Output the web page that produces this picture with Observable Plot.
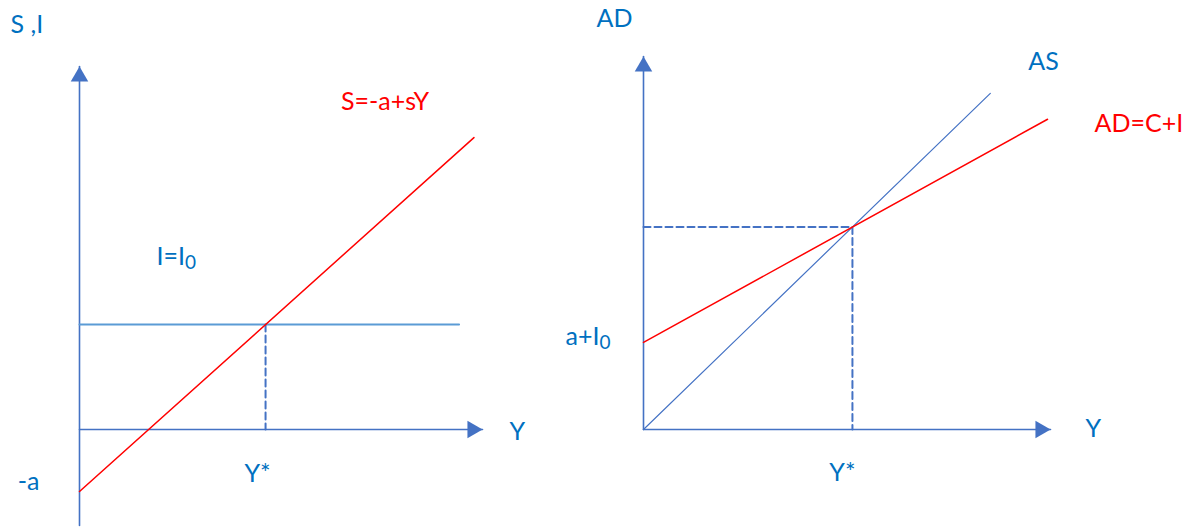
<!DOCTYPE html>
<html>
<head>
<meta charset="utf-8">
<script src="https://cdn.jsdelivr.net/npm/d3@7"></script>
<script src="https://cdn.jsdelivr.net/npm/@observablehq/plot@0.6"></script>
<style>
  html, body { margin: 0; padding: 0; background: #fff; }
  #wrap { position: relative; width: 1189px; height: 529px; overflow: hidden; }
  #wrap svg { position: absolute; top: 0; }
</style>
</head>
<body>
<div id="wrap"></div>
<script>
// ---------- Left panel: saving / investment ----------
const leftAxisY = [-27.4, 103.7];   // vertical axis extent (S, I)
const leftAxisX = [0, 108.3];       // horizontal axis extent (Y)
const savingY = [0, 106];           // S = -a + sY, Y values
const savingS = [-17.7, 83.4];      // S values at those Y
const investY = [0, 102];           // I = I0 line extent
const I0 = 30;
const minusA = -17.7;
const YstarLeft = 50;

// ---------- Right panel: aggregate demand / supply ----------
const rightAxisY = [0, 92.1];
const rightAxisX = [0, 97.4];
const asY = [0, 83];
const asVal = [0, 83];
const adY = [0, 96.7];
const adVal = [21.5, 76.6];
const YstarRight = 50;
const ADstar = 50;

// ---------- Labels ----------
const leftLabels = ["S ,I", "Y", "Y*", "-a", "I=I0", "S=-a+sY"];
const rightLabels = ["AD", "Y", "Y*", "a+I0", "AS", "AD=C+I"];

const AXIS = "#4472C4";
const TEXTBLUE = "#0070C0";
const RED = "#FF0000";
const LIGHT = "#5B9BD5";
const FONT = "Lato, 'Open Sans', sans-serif";
const FS = 25;

const pts = (xs, ys) => xs.map((x, i) => ({x, y: ys[i]}));

function txt(x, y, label, color, opts) {
  return Plot.text([{x, y}], Object.assign({x: "x", y: "y", text: () => label, fill: color,
    fontSize: FS, fontFamily: FONT}, opts));
}

const left = Plot.plot({
  width: 560, height: 529,
  marginLeft: 79, marginRight: 78, marginTop: 66, marginBottom: 4,
  x: {domain: leftAxisX, axis: null},
  y: {domain: leftAxisY, axis: null},
  style: {fontFamily: FONT, background: "transparent", overflow: "visible"},
  marks: [
    // axes
    Plot.line(pts([0, 0], leftAxisY), {x: "x", y: "y", stroke: AXIS, strokeWidth: 1.6}),
    Plot.line(pts(leftAxisX, [0, 0]), {x: "x", y: "y", stroke: AXIS, strokeWidth: 1.6}),
    Plot.dot([{x: 0, y: leftAxisY[1]}], {x: "x", y: "y", symbol: "triangle", r: 6.5, fill: AXIS, stroke: "none", dy: 10}),
    Plot.dot([{x: leftAxisX[1], y: 0}], {x: "x", y: "y", symbol: "triangle", r: 6.5, fill: AXIS, stroke: "none", rotate: 90, dx: -10}),
    // investment line
    Plot.line(pts(investY, [I0, I0]), {x: "x", y: "y", stroke: LIGHT, strokeWidth: 2}),
    // dashed Y*
    Plot.line(pts([YstarLeft, YstarLeft], [I0, 0]), {x: "x", y: "y", stroke: AXIS, strokeWidth: 2, strokeDasharray: "7,4"}),
    // saving line
    Plot.line(pts(savingY, savingS), {x: "x", y: "y", stroke: RED, strokeWidth: 1.5}),
    // labels
    txt(0, leftAxisY[1], leftLabels[0], TEXTBLUE, {textAnchor: "start", dx: -69, dy: -42}),
    txt(leftAxisX[1], 0, leftLabels[1], TEXTBLUE, {textAnchor: "start", dx: 27, dy: 2}),
    txt(YstarLeft, 0, leftLabels[2], TEXTBLUE, {textAnchor: "middle", dx: -8, dy: 44}),
    txt(0, minusA, leftLabels[3], TEXTBLUE, {textAnchor: "end", dx: -40, dy: -10}),
    txt(0, I0, leftLabels[4], TEXTBLUE, {textAnchor: "start", dx: 77, dy: -68}),
    txt(savingY[1], savingS[1], leftLabels[5], RED, {textAnchor: "start", dx: -133, dy: -36})
  ]
});
left.style.left = "0px";

const right = Plot.plot({
  width: 629, height: 529,
  marginLeft: 83, marginRight: 139, marginTop: 56, marginBottom: 100,
  x: {domain: rightAxisX, axis: null},
  y: {domain: rightAxisY, axis: null},
  style: {fontFamily: FONT, background: "transparent", overflow: "visible"},
  marks: [
    Plot.line(pts([0, 0], rightAxisY), {x: "x", y: "y", stroke: AXIS, strokeWidth: 1.6}),
    Plot.line(pts(rightAxisX, [0, 0]), {x: "x", y: "y", stroke: AXIS, strokeWidth: 1.6}),
    Plot.dot([{x: 0, y: rightAxisY[1]}], {x: "x", y: "y", symbol: "triangle", r: 6.5, fill: AXIS, stroke: "none", dy: 10}),
    Plot.dot([{x: rightAxisX[1], y: 0}], {x: "x", y: "y", symbol: "triangle", r: 6.5, fill: AXIS, stroke: "none", rotate: 90, dx: -10}),
    // dashed guides
    Plot.line(pts([0, YstarRight, YstarRight], [ADstar, ADstar, 0]), {x: "x", y: "y", stroke: AXIS, strokeWidth: 2, strokeDasharray: "7,4"}),
    // AS line
    Plot.line(pts(asY, asVal), {x: "x", y: "y", stroke: AXIS, strokeWidth: 1.2}),
    // AD line
    Plot.line(pts(adY, adVal), {x: "x", y: "y", stroke: RED, strokeWidth: 1.5}),
    // labels
    txt(0, rightAxisY[1], rightLabels[0], TEXTBLUE, {textAnchor: "middle", dx: -29, dy: -38}),
    txt(rightAxisX[1], 0, rightLabels[1], TEXTBLUE, {textAnchor: "start", dx: 35, dy: -1}),
    txt(YstarRight, 0, rightLabels[2], TEXTBLUE, {textAnchor: "middle", dx: -10, dy: 43}),
    txt(0, adVal[0], rightLabels[3], TEXTBLUE, {textAnchor: "start", dx: -78, dy: -5}),
    txt(asY[1], asVal[1], rightLabels[4], TEXTBLUE, {textAnchor: "start", dx: 38, dy: -31}),
    txt(adY[1], adVal[1], rightLabels[5], RED, {textAnchor: "start", dx: 47, dy: 5})
  ]
});
right.style.left = "560px";

const wrap = document.getElementById("wrap");
wrap.appendChild(left);
wrap.appendChild(right);

// subscripts: turn trailing "0" of I0 into a lowered, smaller tspan
function subscript(svg, label, main, sub) {
  svg.querySelectorAll("text").forEach(t => {
    if (t.textContent === label) {
      t.textContent = main;
      const ts = document.createElementNS("http://www.w3.org/2000/svg", "tspan");
      ts.setAttribute("font-size", "19");
      ts.setAttribute("dy", "4");
      ts.textContent = sub;
      t.appendChild(ts);
    }
  });
}
subscript(left, "I=I0", "I=I", "0");
subscript(right, "a+I0", "a+I", "0");
</script>
</body>
</html>
